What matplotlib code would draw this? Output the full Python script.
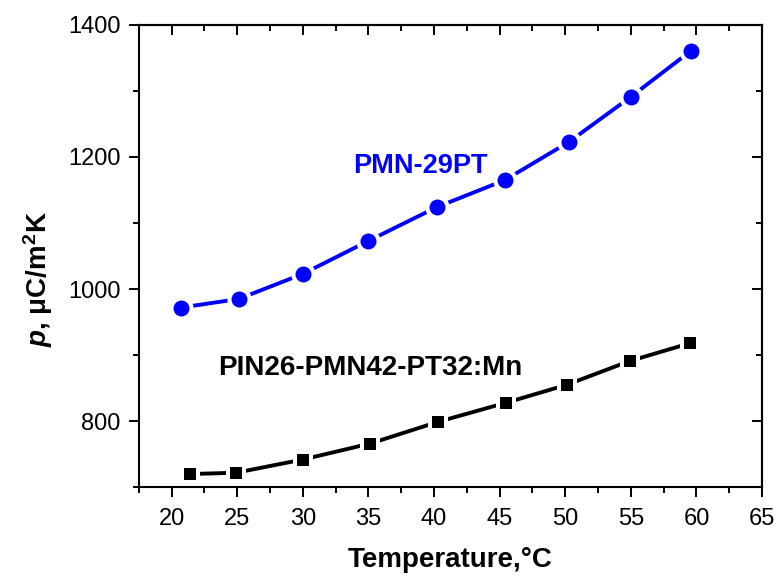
import matplotlib
matplotlib.use("Agg")
import matplotlib.pyplot as plt
from matplotlib.ticker import MultipleLocator

plt.rcParams['font.family'] = ['Liberation Sans', 'DejaVu Sans']
plt.rcParams['mathtext.fontset'] = 'custom'
plt.rcParams['mathtext.it'] = 'Liberation Sans:italic:bold'
plt.rcParams['mathtext.rm'] = 'Liberation Sans:bold'
plt.rcParams['mathtext.bf'] = 'Liberation Sans:bold'

# Data
temp_pmn = [20.7, 25.1, 30.0, 35.0, 40.2, 45.4, 50.3, 55.0, 59.6]
p_pmn = [972, 985, 1023, 1073, 1124, 1165, 1223, 1291, 1361]
temp_pin = [21.4, 24.9, 30.0, 35.1, 40.3, 45.5, 50.1, 54.9, 59.5]
p_pin = [720, 722, 742, 766, 799, 828, 855, 891, 918]
label_pmn = "PMN-29PT"
label_pin = "PIN26-PMN42-PT32:Mn"

fig = plt.figure(figsize=(7.76, 5.78), dpi=100)
ax = fig.add_axes([0.179, 0.157, 0.803, 0.800])

blue = '#0000ff'
for x, y, c, m, ms in [(temp_pmn, p_pmn, blue, 'o', 11.5), (temp_pin, p_pin, 'black', 's', 9)]:
    ax.plot(x, y, '-', color=c, lw=2.8, zorder=2)
    ax.plot(x, y, m, color='white', ms=ms + 6, mew=0, ls='none', zorder=3)
    ax.plot(x, y, m, color=c, ms=ms, mew=0, ls='none', zorder=4)

ax.text(38.96, 1176, label_pmn, color=blue, fontsize=19.5, fontweight='bold', ha='center', va='baseline')
ax.text(35.16, 870, label_pin, color='black', fontsize=20, fontweight='bold', ha='center', va='baseline')

ax.set_xlim(17.5, 65)
ax.set_ylim(700, 1400)
ax.xaxis.set_major_locator(MultipleLocator(5))
ax.xaxis.set_minor_locator(MultipleLocator(2.5))
ax.yaxis.set_major_locator(MultipleLocator(200))
ax.yaxis.set_minor_locator(MultipleLocator(100))

ax.tick_params(which='both', direction='out', top=False, right=False, width=1.4, labelsize=17)
ax.tick_params(which='major', length=7, pad=6)
ax.tick_params(which='minor', length=4)
ax.tick_params(axis='x', which='major', pad=8)

secx = ax.secondary_xaxis('top')
secx.xaxis.set_major_locator(MultipleLocator(5))
secx.xaxis.set_minor_locator(MultipleLocator(2.5))
secx.tick_params(which='both', direction='in', labeltop=False, width=1.4)
secx.tick_params(which='major', length=7)
secx.tick_params(which='minor', length=4)
secx.spines['top'].set_linewidth(1.5)
secy = ax.secondary_yaxis('right')
secy.yaxis.set_major_locator(MultipleLocator(200))
secy.yaxis.set_minor_locator(MultipleLocator(100))
secy.tick_params(which='both', direction='in', labelright=False, width=1.4)
secy.tick_params(which='major', length=7)
secy.tick_params(which='minor', length=4)
secy.spines['right'].set_linewidth(1.5)

for s in ax.spines.values():
    s.set_linewidth(1.5)

ax.set_xlabel('Temperature,°C', fontsize=20, fontweight='bold', labelpad=12)
ax.set_ylabel(r'$\mathit{p}$, μC/m$^{\mathrm{2}}$K', fontsize=20, fontweight='bold')
ax.yaxis.set_label_coords(-0.135, 0.45)

fig.savefig('out.png', dpi=100)
